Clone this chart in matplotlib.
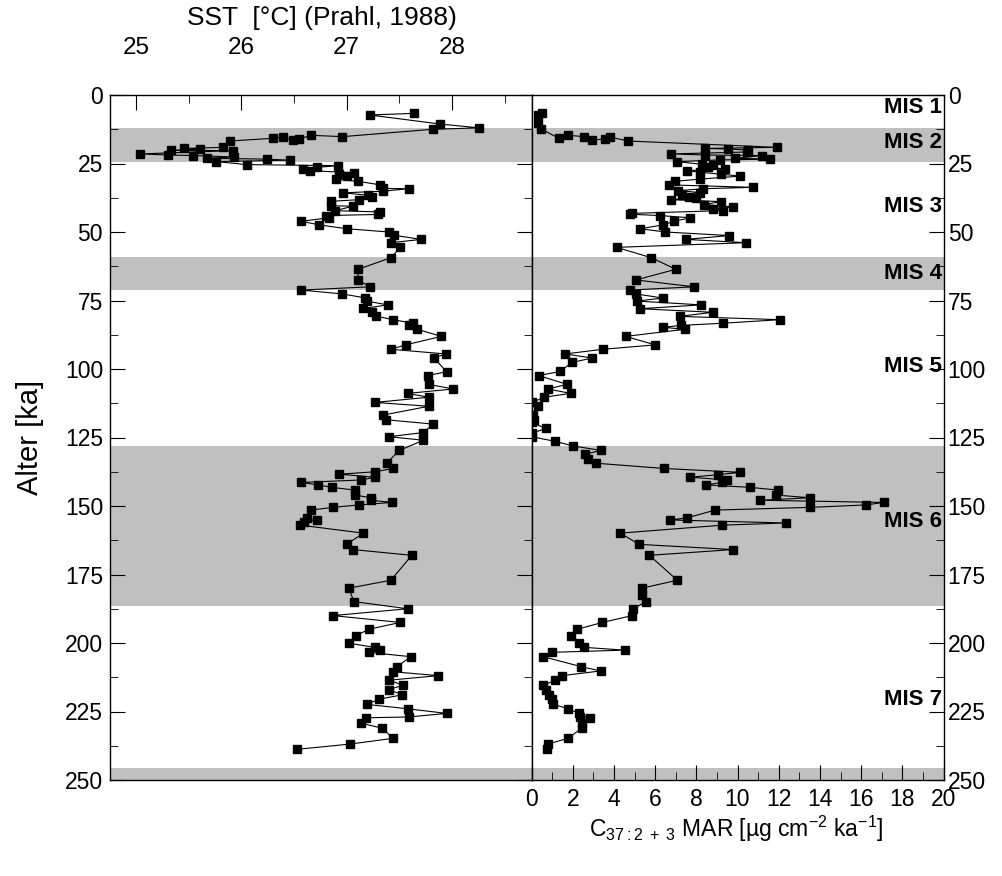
"""SST and C37 alkenone MAR versus age, with MIS bands."""
import matplotlib
matplotlib.use("Agg")
import matplotlib.pyplot as plt
from matplotlib.ticker import MultipleLocator

plt.rcParams["font.family"] = ["Liberation Sans", "DejaVu Sans"]
plt.rcParams["mathtext.fontset"] = "custom"
plt.rcParams["mathtext.rm"] = "Liberation Sans"
plt.rcParams["mathtext.it"] = "Liberation Sans"

# SST (Prahl, 1988) -- age [ka], temperature [degC]
sst_age = [6.7, 7.3, 10.6, 12.0, 12.5, 15.2, 14.7, 16.1, 16.5, 15.4, 15.8, 16.8,
           19.1, 19.5, 19.7, 20.2, 20.3, 21.5, 21.9, 22.1, 22.6, 23.1, 23.4, 23.8,
           24.3, 25.4, 25.8, 26.4, 27.0, 27.6, 28.4, 28.8, 29.6, 30.8, 31.5, 32.8,
           34.1, 34.2, 35.1, 35.7, 36.6, 37.3, 38.2, 38.8, 40.4, 40.6, 42.2, 42.7,
           43.6, 44.0, 44.8, 46.1, 47.4, 48.8, 50.0, 51.2, 52.7, 53.9, 55.6, 59.4,
           63.6, 67.5, 70.0, 71.2, 72.6, 74.0, 75.2, 76.6, 77.9, 79.3, 80.7, 82.0,
           83.3, 83.9, 85.5, 88.1, 91.2, 92.8, 94.5, 96.0, 101.0, 102.4, 105.6,
           107.3, 108.9, 110.3, 112.2, 113.6, 116.8, 118.5, 120.1, 123.2, 124.7,
           126.0, 129.7, 134.4, 136.3, 137.5, 138.4, 139.5, 140.5, 141.4, 142.3,
           143.2, 144.2, 146.0, 147.0, 147.9, 148.7, 149.6, 150.5, 151.5, 154.3,
           155.1, 155.9, 157.0, 159.9, 164.0, 165.9, 168.0, 177.1, 180.0, 184.9,
           187.5, 190.0, 192.5, 195.0, 197.3, 200.1, 201.6, 202.6, 203.4, 205.0,
           208.6, 210.5, 211.9, 213.6, 215.4, 217.0, 218.9, 220.5, 222.4, 224.0,
           225.7, 227.0, 227.3, 229.3, 231.1, 234.8, 236.9, 238.8]
sst = [27.64, 27.22, 27.89, 28.26, 27.82, 26.96, 26.66, 26.55, 26.49, 26.40, 26.30,
       25.89, 25.83, 25.46, 25.61, 25.33, 25.92, 25.04, 25.30, 25.54, 25.93, 25.67,
       26.24, 26.46, 25.76, 26.05, 26.92, 26.72, 26.59, 26.65, 27.07, 26.93, 27.00,
       26.90, 27.11, 27.32, 27.35, 27.59, 27.35, 26.97, 27.20, 27.24, 27.12, 26.85,
       26.85, 27.06, 26.89, 27.32, 27.30, 26.80, 26.83, 26.57, 26.74, 27.00, 27.40,
       27.45, 27.71, 27.42, 27.51, 27.42, 27.11, 27.11, 27.22, 26.57, 26.96, 27.17,
       27.19, 27.39, 27.16, 27.24, 27.28, 27.44, 27.63, 27.59, 27.67, 27.90, 27.56,
       27.42, 27.94, 27.83, 27.95, 27.77, 27.78, 28.01, 27.58, 27.78, 27.27, 27.78,
       27.35, 27.37, 27.82, 27.73, 27.40, 27.73, 27.50, 27.38, 27.44, 27.27, 26.93,
       27.27, 27.14, 26.57, 26.73, 26.86, 27.08, 27.08, 27.23, 27.23, 27.43, 27.12,
       26.87, 26.66, 26.62, 26.72, 26.60, 26.56, 27.16, 27.00, 27.06, 27.62, 27.42,
       27.02, 27.07, 27.58, 26.87, 27.51, 27.21, 27.09, 27.02, 27.27, 27.32, 27.21,
       27.61, 27.48, 27.44, 27.87, 27.40, 27.54, 27.40, 27.53, 27.31, 27.19, 27.58,
       27.95, 27.59, 27.18, 27.14, 27.34, 27.44, 27.03, 26.53]

# C37:2+3 mass accumulation rate -- age [ka], MAR [ug cm-2 ka-1]
mar_age = [6.7, 7.3, 10.3, 12.4, 15.8, 14.7, 15.2, 16.4, 16.1, 15.4, 16.8, 19.1,
           19.5, 19.7, 20.1, 20.8, 21.5, 21.9, 22.1, 23.1, 23.4, 23.7, 24.3, 25.3,
           25.5, 26.2, 27.0, 27.6, 28.2, 28.9, 29.6, 30.7, 31.5, 32.8, 33.7, 34.2,
           34.9, 35.6, 36.5, 37.1, 37.5, 38.2, 38.9, 40.0, 40.8, 41.6, 42.2, 43.2,
           43.5, 44.0, 44.8, 46.1, 47.4, 48.8, 50.0, 51.3, 52.7, 53.9, 55.6, 59.4,
           63.6, 67.5, 70.0, 71.2, 72.6, 74.1, 75.2, 76.6, 78.0, 79.3, 80.8, 82.0,
           83.3, 84.1, 84.8, 85.5, 88.1, 91.2, 92.8, 94.5, 96.0, 97.6, 100.9, 102.4,
           105.6, 107.3, 108.9, 110.3, 112.2, 113.6, 116.8, 118.5, 119.5, 121.7,
           123.5, 124.7, 126.4, 128.1, 129.7, 131.1, 132.8, 134.4, 136.3, 137.7,
           138.6, 139.5, 140.5, 141.4, 142.3, 143.2, 144.2, 146.0, 147.0, 147.9,
           148.7, 149.6, 150.5, 151.5, 154.3, 155.1, 156.2, 157.0, 159.9, 164.0,
           165.9, 168.0, 177.1, 180.0, 182.5, 184.9, 187.5, 190.0, 192.5, 195.0,
           197.3, 200.1, 201.6, 202.6, 203.4, 205.0, 208.6, 210.2, 211.9, 213.6,
           215.4, 217.2, 218.9, 220.5, 222.4, 224.0, 225.7, 227.4, 227.1, 229.3,
           231.1, 234.8, 236.9, 238.8]
mar = [0.52, 0.33, 0.33, 0.46, 1.33, 1.79, 2.55, 2.94, 3.57, 3.83, 4.70, 11.93,
       8.43, 9.55, 10.52, 10.48, 6.77, 8.44, 11.17, 9.88, 11.58, 9.15, 7.06, 8.26,
       8.83, 8.55, 9.38, 7.56, 8.18, 9.20, 10.14, 8.18, 6.97, 6.67, 10.74, 8.34,
       7.13, 8.18, 7.29, 7.66, 7.99, 6.77, 9.18, 8.37, 9.77, 8.80, 9.28, 4.89,
       4.78, 6.24, 7.71, 6.92, 6.40, 5.28, 6.50, 9.60, 7.48, 10.43, 4.13, 5.82,
       7.01, 5.07, 7.89, 4.77, 5.07, 6.38, 5.11, 8.24, 5.27, 8.81, 7.19, 12.06,
       9.28, 7.24, 6.40, 7.45, 4.57, 6.01, 3.46, 1.64, 2.94, 1.98, 1.38, 0.35,
       1.72, 0.80, 1.90, 0.61, 0.04, 0.33, 0.09, 0.14, 0.00, 0.70,
       0.00, 0.00, 1.14, 2.03, 3.36, 2.60, 2.73, 3.15, 6.43, 10.12,
       9.04, 7.71, 9.47, 9.23, 8.47, 10.62, 11.97, 11.85, 13.54, 11.11,
       17.10, 16.24, 13.52, 8.91, 7.56, 6.74, 12.35, 9.26, 4.31, 5.22,
       9.78, 5.72, 7.08, 5.35, 5.35, 5.56, 4.94, 4.89, 3.44, 2.21,
       1.92, 2.31, 2.55, 4.54, 0.98, 0.57, 2.39, 3.36, 1.50, 1.16,
       0.57, 0.70, 0.85, 0.98, 1.06, 1.79, 2.31, 2.84, 2.35, 2.44,
       2.44, 1.77, 0.79, 0.74]

# glacial stages (shaded) and stage labels
bands = [(12.0, 24.5), (59.1, 71.2), (128.1, 186.5), (245.6, 250.0)]
mis_labels = ["MIS 1", "MIS 2", "MIS 3", "MIS 4", "MIS 5", "MIS 6", "MIS 7"]
mis_age = [4.4, 17.5, 40.8, 65.0, 99.0, 155.7, 220.5]

W, H = 1002, 876
fig = plt.figure(figsize=(W / 100, H / 100), dpi=100)
top, bot = 95, 780
axl = fig.add_axes([110 / W, 1 - bot / H, (531.5 - 110) / W, (bot - top) / H])
axr = fig.add_axes([531.5 / W, 1 - bot / H, (943.5 - 531.5) / W, (bot - top) / H])

for ax in (axl, axr):
    for lo, hi in bands:
        ax.axhspan(lo, hi, color="#c0c0c0", lw=0, zorder=0)
    ax.set_ylim(250, 0)
    ax.yaxis.set_major_locator(MultipleLocator(25))
    ax.yaxis.set_minor_locator(MultipleLocator(12.5))
    for s in ax.spines.values():
        s.set_linewidth(1.0)
        s.set_zorder(5)

kw = dict(marker="s", ms=5.2, color="black", lw=0.8, mfc="black", mec="black")
axl.plot(sst, sst_age, **kw)
axr.plot(mar, mar_age, **kw)

# left panel: SST on top axis
axl.set_xlim(24.753, 28.756)
axl.xaxis.set_major_locator(MultipleLocator(1))
axl.xaxis.set_minor_locator(MultipleLocator(0.5))
axl.xaxis.tick_top()
axl.tick_params(axis="x", which="both", direction="in", top=True, bottom=False,
                labeltop=True, labelbottom=False, labelsize=17.5, pad=26)
axl.tick_params(axis="x", which="major", length=11)
axl.tick_params(axis="x", which="minor", length=6)
axl.tick_params(axis="y", which="both", direction="in", left=True, right=True,
                labelleft=True, labelright=False, labelsize=16.5, pad=5)
axl.tick_params(axis="y", which="major", length=11)
axl.tick_params(axis="y", which="minor", length=6)
fig.text(322 / W, 1 - 18 / H, "SST  [°C] (Prahl, 1988)", fontsize=19,
         ha="center", va="center")
fig.text(30 / W, 1 - 437 / H, "Alter [ka]", fontsize=21, rotation=90,
         ha="center", va="center")

# right panel: MAR on bottom axis
axr.set_xlim(0, 20)
axr.xaxis.set_major_locator(MultipleLocator(2))
axr.xaxis.set_minor_locator(MultipleLocator(1))
axr.tick_params(axis="x", which="both", direction="in", top=False, bottom=True,
                labelsize=16.5, pad=6)
axr.tick_params(axis="x", which="major", length=11)
axr.tick_params(axis="x", which="minor", length=6)
axr.tick_params(axis="y", which="both", direction="in", left=False, right=True,
                labelleft=False, labelright=True, labelsize=16.5, pad=3)
axr.tick_params(axis="y", which="major", length=11)
axr.tick_params(axis="y", which="minor", length=6)
fig.text(736 / W, 1 - 829 / H,
         r"C$_{37:2\ +\ 3}$ MAR [µg cm$^{-2}$ ka$^{-1}$]", fontsize=16.5,
         ha="center", va="center")

for lbl, a in zip(mis_labels, mis_age):
    axr.text(0.996, a, lbl, transform=axr.get_yaxis_transform(), ha="right",
             va="center", fontsize=16, fontweight="bold", zorder=6)

fig.savefig("out.png", dpi=100)
